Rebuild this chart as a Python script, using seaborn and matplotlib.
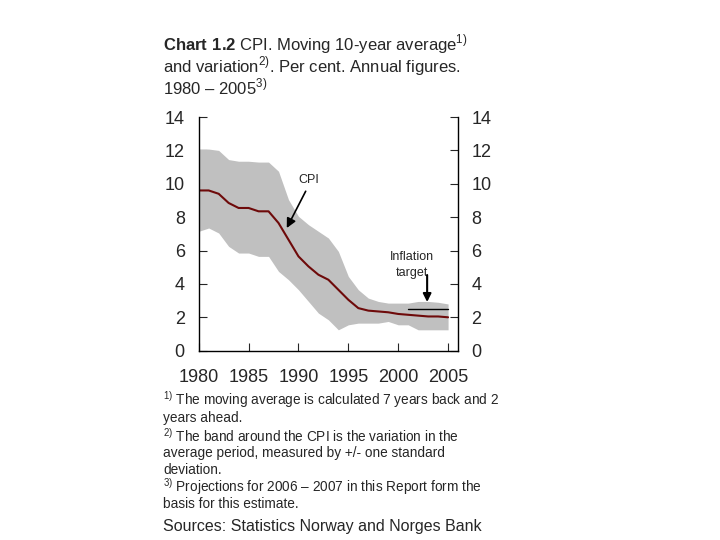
import numpy as np
import pandas as pd
import matplotlib
matplotlib.use("Agg")
from matplotlib import pyplot as plt
import seaborn as sns

# data
years = list(range(1980, 2006))
cpi = [9.6, 9.6, 9.4, 8.85, 8.55, 8.55, 8.35, 8.35, 7.65, 6.65,
       5.65, 5.05, 4.55, 4.25, 3.65, 3.05, 2.55, 2.4, 2.35, 2.3,
       2.2, 2.15, 2.1, 2.05, 2.05, 2.0]
upper = [12.08, 12.08, 12.0, 11.45, 11.35, 11.35, 11.3, 11.3, 10.75, 9.05,
         8.05, 7.55, 7.15, 6.75, 5.95, 4.45, 3.65, 3.15, 2.95, 2.85,
         2.85, 2.85, 2.95, 2.95, 2.9, 2.8]
lower = [7.15, 7.35, 7.05, 6.25, 5.85, 5.85, 5.65, 5.65, 4.75, 4.25,
         3.65, 2.95, 2.25, 1.85, 1.25, 1.55, 1.65, 1.65, 1.65, 1.75,
         1.55, 1.55, 1.25, 1.25, 1.25, 1.25]
target_years = [2001, 2005]
target_value = [2.5, 2.5]
yticks = [0, 2, 4, 6, 8, 10, 12, 14]
xticks = [1980, 1985, 1990, 1995, 2000, 2005]

sns.set_style("ticks")
plt.rcParams['font.family'] = ['Liberation Sans', 'DejaVu Sans']
plt.rcParams['mathtext.fontset'] = 'custom'
plt.rcParams['mathtext.rm'] = 'Liberation Sans'
plt.rcParams['mathtext.bf'] = 'Liberation Sans:bold'

df = pd.DataFrame({'year': years, 'cpi': cpi, 'upper': upper, 'lower': lower})

fig = plt.figure(figsize=(7.2, 5.4), dpi=100)
ax = fig.add_axes([0.276, 0.3506, 0.3595, 0.4327])

ax.fill_between(df['year'], df['lower'], df['upper'], color='#c0c0c0', linewidth=0)
sns.lineplot(data=df, x='year', y='cpi', ax=ax, color='#6e0a0a', linewidth=1.5)
ax.plot(target_years, target_value, color='black', linewidth=1.0)

ax.set_xlim(1980, 2005.95)
ax.set_ylim(0, 14)
ax.set_xticks(xticks)
ax.set_yticks(yticks)
ax.set_xlabel('')
ax.set_ylabel('')
ax.spines['top'].set_visible(False)
for s in ['left', 'right', 'bottom']:
    ax.spines[s].set_linewidth(1.0)
    ax.spines[s].set_color('black')
ax.tick_params(axis='y', direction='in', length=6, labelsize=13, pad=10,
               left=True, right=True, labelleft=True, labelright=True)
ax.tick_params(axis='x', direction='in', length=6, labelsize=13, pad=13)

# annotations
ax.annotate('', xy=(1988.7, 7.2), xytext=(1990.85, 9.7),
            arrowprops=dict(arrowstyle='-|>', color='black', lw=1.2, mutation_scale=14))
ax.text(1991.0, 10.2, 'CPI', fontsize=9, ha='center', va='center')
ax.text(2001.4, 5.62, 'Inflation', fontsize=9, ha='center', va='center')
ax.text(2001.4, 4.68, 'target', fontsize=9, ha='center', va='center')
ax.annotate('', xy=(2002.9, 2.75), xytext=(2002.9, 4.7),
            arrowprops=dict(arrowstyle='-|>', color='black', lw=1.5, mutation_scale=12))

# title
x0 = 163 / 720
fig.text(x0, 1 - 44 / 540, r'$\mathbf{Chart\ 1.2}$ CPI. Moving 10-year average$^{\mathrm{1)}}$',
         fontsize=12, va='center')
fig.text(x0, 1 - 66 / 540, r'and variation$^{\mathrm{2)}}$. Per cent. Annual figures.',
         fontsize=12, va='center')
fig.text(x0, 1 - 87 / 540, r'1980 – 2005$^{\mathrm{3)}}$', fontsize=12, va='center')

# footnotes
notes = [
    r'$^{\mathrm{1)}}$ The moving average is calculated 7 years back and 2',
    'years ahead.',
    r'$^{\mathrm{2)}}$ The band around the CPI is the variation in the',
    'average period, measured by +/- one standard',
    'deviation.',
    r'$^{\mathrm{3)}}$ Projections for 2006 – 2007 in this Report form the',
    'basis for this estimate.',
]
note_y = [400, 418, 436, 453.5, 470, 487, 504]
for t, yy in zip(notes, note_y):
    fig.text(x0, 1 - yy / 540, t, fontsize=9.8, va='center')
fig.text(x0, 1 - 527 / 540, 'Sources: Statistics Norway and Norges Bank', fontsize=11.5, va='center')

fig.savefig('out.png', dpi=100)
